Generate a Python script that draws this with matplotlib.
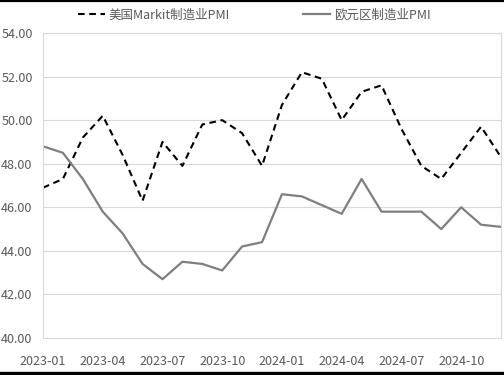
import matplotlib
matplotlib.use("Agg")
import matplotlib.pyplot as plt
from matplotlib.lines import Line2D

months = ["2023-01", "2023-02", "2023-03", "2023-04", "2023-05", "2023-06",
          "2023-07", "2023-08", "2023-09", "2023-10", "2023-11", "2023-12",
          "2024-01", "2024-02", "2024-03", "2024-04", "2024-05", "2024-06",
          "2024-07", "2024-08", "2024-09", "2024-10", "2024-11", "2024-12"]
us_pmi = [46.9, 47.3, 49.2, 50.2, 48.4, 46.3, 49.0, 47.9, 49.8, 50.0, 49.4, 47.9,
          50.7, 52.2, 51.9, 50.0, 51.3, 51.6, 49.6, 47.9, 47.3, 48.5, 49.7, 48.3]
ez_pmi = [48.8, 48.5, 47.3, 45.8, 44.8, 43.4, 42.7, 43.5, 43.4, 43.1, 44.2, 44.4,
          46.6, 46.5, 46.1, 45.7, 47.3, 45.8, 45.8, 45.8, 45.0, 46.0, 45.2, 45.1]
us_label = "美国Markit制造业PMI"
ez_label = "欧元区制造业PMI"
yticks = [40, 42, 44, 46, 48, 50, 52, 54]

plt.rcParams["font.family"] = ["Noto Sans CJK SC", "DejaVu Sans"]
txt_color = "#595959"

W, H = 504, 375
fig = plt.figure(figsize=(W / 100, H / 100), dpi=100)
ax = fig.add_axes([43 / W, 1 - 338 / H, (501 - 43) / W, (338 - 33) / H])

x = list(range(len(months)))
ax.plot(x, us_pmi, color="black", lw=1.5, ls=(0, (3.2, 2.2)), label=us_label)
ax.plot(x, ez_pmi, color="#7f7f7f", lw=1.6, label=ez_label)

ax.set_xlim(0, len(months) - 1)
ax.set_ylim(40, 54)
ax.set_yticks(yticks)
ax.set_yticklabels([f"{v:.2f}" for v in yticks])
ax.set_xticks(x[::3])
ax.set_xticklabels(months[::3])
ax.tick_params(axis="both", length=0, labelsize=9, colors=txt_color)
ax.tick_params(axis="y", pad=7.5)
ax.tick_params(axis="x", pad=12)
ax.grid(axis="y", color="#d9d9d9", lw=0.8)
ax.set_axisbelow(True)
for s in ax.spines.values():
    s.set_color("#d9d9d9")
    s.set_linewidth(0.8)

fig.legend(handles=ax.get_lines(), loc="center", bbox_to_anchor=(254 / W, 1 - 15 / H),
           ncol=2, frameon=False, fontsize=9, labelcolor=txt_color,
           handlelength=2.2, handletextpad=0.3, columnspacing=5.8)

# black frame lines at top and bottom of the image
fig.add_artist(Line2D([0, 1], [1 - 0.8 / H, 1 - 0.8 / H], transform=fig.transFigure,
                      color="black", lw=1.6))
fig.add_artist(Line2D([0, 1], [1.6 / H, 1.6 / H], transform=fig.transFigure,
                      color="black", lw=2.4))

fig.savefig("out.png", dpi=100)
